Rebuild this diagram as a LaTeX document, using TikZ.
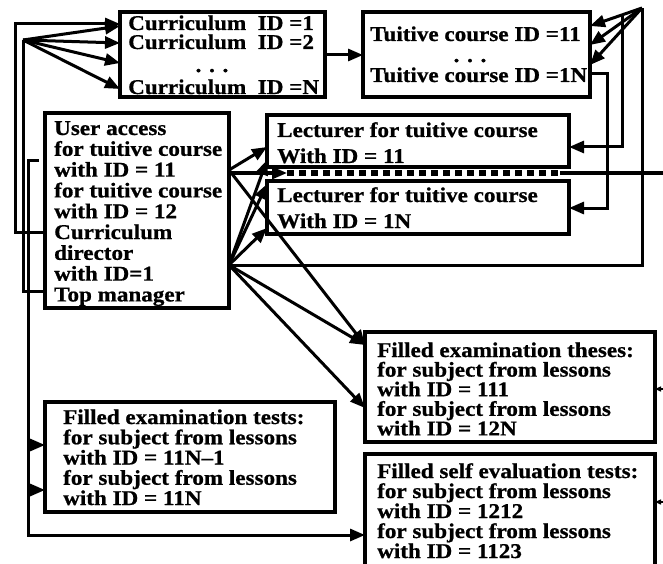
\documentclass[tikz,border=0pt]{standalone}
\usepackage{fontspec}
\setmainfont{Liberation Serif}[FakeStretch=1.1, BoldFeatures={FakeBold=0.8}]
\usetikzlibrary{arrows.meta}

\begin{document}
\begin{tikzpicture}[x=1pt,y=-1pt,
  box/.style={draw, line width=3.6pt, inner sep=0pt, outer sep=0pt, anchor=north west},
  txt/.style={anchor=base west, inner sep=0pt, font=\fontsize{21}{21}\selectfont\bfseries},
  conn/.style={line width=3pt},
  arr/.style={conn, -{Triangle[length=15pt,width=12pt]}},
  tinyarr/.style={line width=1.4pt, -{Triangle[length=6pt,width=5pt]}}]
\useasboundingbox (0,0) rectangle (663,564);

% boxes
\node[box, minimum width=205pt, minimum height=85pt]  (cur)    at (120,12)  {};
\node[box, minimum width=227pt, minimum height=85pt]  (tui)    at (363,12)  {};
\node[box, minimum width=184pt, minimum height=195pt] (usr)    at (45,113)  {};
\node[box, minimum width=302pt, minimum height=52pt]  (lec11)  at (267,115) {};
\node[box, minimum width=302pt, minimum height=53pt]  (lec1N)  at (267,181) {};
\node[box, minimum width=290pt, minimum height=110pt] (theses) at (365,332) {};
\node[box, minimum width=290pt, minimum height=110pt] (tests)  at (45,402)  {};
\node[box, minimum width=290pt, minimum height=116pt] (self)   at (365,454) {};

% texts
\node[txt] (cur-1) at (128,30) {Curriculum\ \ ID =1};
\node[txt] (cur-2) at (128,49) {Curriculum\ \ ID =2};
\node[txt, anchor=base] (cur-d) at (212,72) {. . .};
\node[txt] (cur-3) at (128,94) {Curriculum\ \ ID =N};

\node[txt] (tui-1) at (370,41) {Tuitive course ID =11};
\node[txt, anchor=base] (tui-d) at (470,62) {. . .};
\node[txt] (tui-2) at (370,82) {Tuitive course ID =1N};

\foreach \t [count=\i] in {User access, for tuitive course, with ID = 11,
    for tuitive course, with ID = 12, Curriculum, director, with ID=1, Top manager}
  \node[txt] (usr-\i) at (54,{135+20.8*(\i-1)}) {\t};

\node[txt] (lec11-1) at (277,137) {Lecturer for tuitive course};
\node[txt] (lec11-2) at (277,163) {With ID = 11};
\node[txt] (lec1N-1) at (277,202) {Lecturer for tuitive course};
\node[txt] (lec1N-2) at (277,228) {With ID = 1N};

\foreach \t [count=\i] in {Filled examination theses:, for subject from lessons,
    with ID = 111, for subject from lessons, with ID = 12N}
  \node[txt] (theses-\i) at (377,{357+19.6*(\i-1)}) {\t};
\foreach \t [count=\i] in {Filled self evaluation tests:, for subject from lessons,
    with ID = 1212, for subject from lessons, with ID = 1123}
  \node[txt] (self-\i) at (377,{478+20*(\i-1)}) {\t};
\foreach \t [count=\i] in {Filled examination tests:, for subject from lessons,
    with ID = 11N--1, for subject from lessons, with ID = 11N}
  \node[txt] (tests-\i) at (63,{424+20.25*(\i-1)}) {\t};

% junction points
\coordinate (fanL) at (23,40);
\coordinate (apex) at (642,8);
\coordinate (u1) at (usr.east |- 0,170);
\coordinate (u2) at (usr.east |- 0,265);

% left side: curriculum director and top manager to the curricula
\draw[arr] (usr.west |- 0,232) -| (15,24) -- (cur.west |- 0,24);
\draw[conn] (usr.west |- 0,291) -| (fanL);
\foreach \y in {26,43,63,89}
  \draw[arr] (fanL) -- (cur.west |- 0,\y);

% left side: down to the filled tests
\draw[arr] ([xshift=-6pt]usr.west |- 0,161) -| (28,535) -- (self.west |- 0,535);
\draw[arr] (28,445) -- (tests.west |- 0,445);
\draw[arr] (28,490) -- (tests.west |- 0,490);

% curricula to tuitive courses
\draw[arr] (cur.east |- 0,55) -- (tui.west |- 0,55);

% right side: loop to the tuitive courses and lecturers
\draw[conn] (u2) -| (apex);
\draw[arr] (apex) -- (tui.east |- 0,26);
\draw[arr] (apex) -- (tui.east |- 0,45);
\draw[arr] (apex) -- (tui.east |- 0,65);
\draw[arr] (622,16) |- (lec11.east |- 0,147);
\draw[arr] (tui.east |- 0,74) -| (607,208) -- (lec1N.east |- 0,208);

% separator between the lecturers
\coordinate (dashA) at (287,173);
\coordinate (dashB) at (560,173);
\coordinate (edgeR) at (663,173);
\draw[arr] (u1 |- 0,173) -- (dashA);
\draw[line width=5pt, dash pattern=on 7pt off 5pt] (dashA) -- (dashB);
\draw[line width=3.4pt] (dashB) -- (edgeR);

% user access to lecturers and theses
\draw[arr] (u1) -- (lec11.west |- 0,147);
\draw[arr] (u1) -- (theses.west |- 0,345);
\draw[arr] (u2) -- (lec11.west |- 0,160);
\draw[arr] (u2) -- (lec1N.west |- 0,184);
\draw[arr] (u2) -- (lec1N.west |- 0,228);
\draw[arr] (u2) -- (theses.west |- 0,345);
\draw[arr] (u2) -- (theses.west |- 0,408);

% incoming stubs on the right edge
\coordinate (inA) at (663,389);
\coordinate (inB) at (663,502);
\draw[tinyarr] (inA) -- (theses.east |- inA);
\draw[tinyarr] (inB) -- (self.east |- inB);
\end{tikzpicture}
\end{document}
